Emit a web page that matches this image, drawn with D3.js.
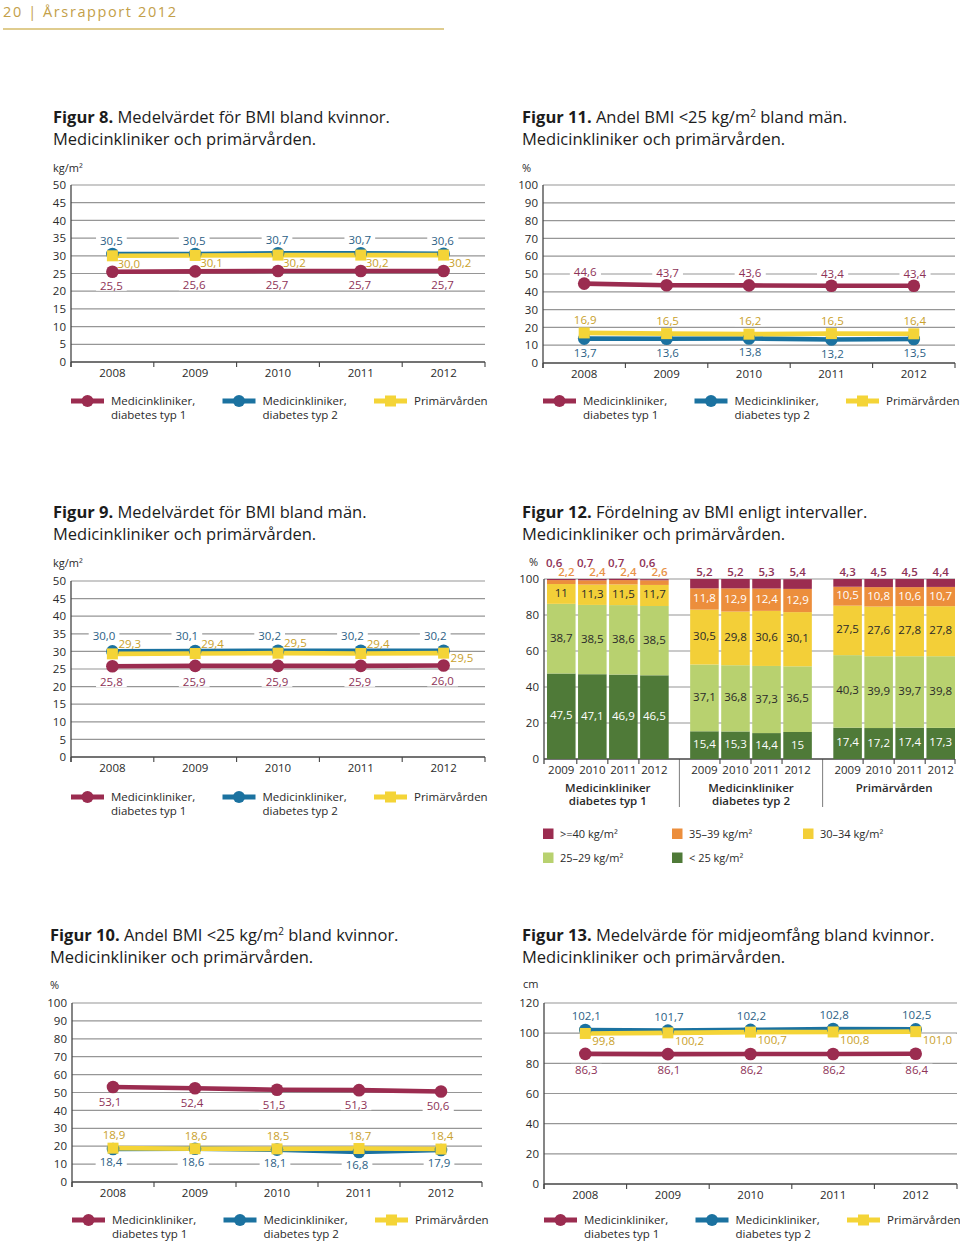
<!DOCTYPE html>
<html><head><meta charset="utf-8">
<script src="https://cdn.jsdelivr.net/npm/d3@7"></script>
<style>
body{margin:0;background:#fff;}
svg{display:block;}
</style></head><body>
<svg id="page" width="960" height="1241"></svg>
<script>
// ---------- DATA ----------
const years = ["2008","2009","2010","2011","2012"];
const seriesLabels = [["Medicinkliniker,","diabetes typ 1"],["Medicinkliniker,","diabetes typ 2"],["Primärvården"]];

// Figur 8 – BMI kvinnor (kg/m²)
const fig8_typ1 = [25.5,25.6,25.7,25.7,25.7];
const fig8_typ2 = [30.5,30.5,30.7,30.7,30.6];
const fig8_prim = [30.0,30.1,30.2,30.2,30.2];
// Figur 9 – BMI män (kg/m²)
const fig9_typ1 = [25.8,25.9,25.9,25.9,26.0];
const fig9_typ2 = [30.0,30.1,30.2,30.2,30.2];
const fig9_prim = [29.3,29.4,29.5,29.4,29.5];
// Figur 10 – Andel BMI<25 kvinnor (%)
const fig10_typ1 = [53.1,52.4,51.5,51.3,50.6];
const fig10_typ2 = [18.4,18.6,18.1,16.8,17.9];
const fig10_prim = [18.9,18.6,18.5,18.7,18.4];
// Figur 11 – Andel BMI<25 män (%)
const fig11_typ1 = [44.6,43.7,43.6,43.4,43.4];
const fig11_typ2 = [13.7,13.6,13.8,13.2,13.5];
const fig11_prim = [16.9,16.5,16.2,16.5,16.4];
// Figur 13 – Midjeomfång kvinnor (cm)
const fig13_typ1 = [86.3,86.1,86.2,86.2,86.4];
const fig13_typ2 = [102.1,101.7,102.2,102.8,102.5];
const fig13_prim = [99.8,100.2,100.7,100.8,101.0];

// Figur 12 – Fördelning av BMI (%), [grupp][år]
const years12 = ["2009","2010","2011","2012"];
const groups12 = [["Medicinkliniker","diabetes typ 1"],["Medicinkliniker","diabetes typ 2"],["Primärvården"]];
const bmiClasses = ["< 25 kg/m²","25–29 kg/m²","30–34 kg/m²","35–39 kg/m²",">=40 kg/m²"];
const fig12_under25 = [[47.5,47.1,46.9,46.5],[15.4,15.3,14.4,15],[17.4,17.2,17.4,17.3]];
const fig12_25to29  = [[38.7,38.5,38.6,38.5],[37.1,36.8,37.3,36.5],[40.3,39.9,39.7,39.8]];
const fig12_30to34  = [[11,11.3,11.5,11.7],[30.5,29.8,30.6,30.1],[27.5,27.6,27.8,27.8]];
const fig12_35to39  = [[2.2,2.4,2.4,2.6],[11.8,12.9,12.4,12.9],[10.5,10.8,10.6,10.7]];
const fig12_40plus  = [[0.6,0.7,0.7,0.6],[5.2,5.2,5.3,5.4],[4.3,4.5,4.5,4.4]];

// ---------- STYLE ----------
const FONT = "'Open Sans', 'Noto Sans', sans-serif";
const COL = {t1:"#9b2c50", t2:"#1b72a0", pr:"#f4d437"};
const LCOL = {t1:"#8e3357", t2:"#2d5f86", pr:"#c9a12c"};
const GRID = "#969696", AXIS = "#444", TXT = "#2a2a2a";
const BAR = ["#4f7a38","#b8d16f","#f3cf38","#ec8e3c","#9b2c50"];

const svg = d3.select("#page").attr("font-family", FONT);

// header
svg.append("text").attr("x",3).attr("y",17).attr("font-size",14.5)
  .attr("letter-spacing",1.6).attr("fill","#c3a049").text("20 | Årsrapport 2012");
svg.append("line").attr("x1",3).attr("x2",444).attr("y1",29).attr("y2",29)
  .attr("stroke","#d4bb68").attr("stroke-width",1.4);

function title(x, y, bold, rest, line2){
  const t = svg.append("text").attr("x",x).attr("y",y).attr("font-size",16.5).attr("fill","#1c1c1c");
  t.append("tspan").attr("font-weight","bold").text(bold);
  rest.forEach(r=>{
    const s = t.append("tspan").text(r.t);
    if(r.sup){ s.attr("font-size",10).attr("dy",-6); }
    if(r.after){ s.attr("dy",6); }
  });
  svg.append("text").attr("x",x).attr("y",y+22).attr("font-size",16.5).attr("fill","#1c1c1c").text(line2);
}
function fmt1(v){ return v.toFixed(1).replace(".",","); }

function lineChart(o){
  const g = svg.append("g");
  const gGrid=g.append("g"), gBg=g.append("g"), gLine=g.append("g"), gTxt=g.append("g");
  const x = d3.scaleBand().domain(years).range([o.x0,o.x1]);
  const y = d3.scaleLinear().domain([0,o.max]).range([o.y0,o.y1]);
  const ticks = d3.range(0, o.max + 0.001, o.step);
  const cx = d => x(d) + x.bandwidth()/2;

  svg.append("text").attr("x",o.ux).attr("y",o.uy).attr("font-size",11).attr("fill",TXT).text(o.unit);

  gGrid.selectAll("line.grid").data(ticks.slice(1)).join("line")
    .attr("x1",o.x0).attr("x2",o.x1).attr("y1",d=>y(d)).attr("y2",d=>y(d))
    .attr("stroke",GRID).attr("stroke-width",1.2);
  const ya = gGrid.append("g").attr("transform",`translate(${o.x0-1},0)`)
    .call(d3.axisLeft(y).tickValues(ticks).tickSize(0).tickPadding(4).tickFormat(d=>d));
  ya.select(".domain").remove();
  ya.selectAll("text").attr("font-size",11.5).attr("fill",TXT).attr("font-family",FONT);
  const xa = gGrid.append("g").attr("transform",`translate(0,${o.y0})`)
    .call(d3.axisBottom(x).tickSize(0).tickPadding(7));
  xa.select(".domain").remove();
  xa.selectAll("text").attr("font-size",11.5).attr("fill",TXT).attr("font-family",FONT);
  const bounds = years.map(d=>x(d)).concat([o.x1]);
  gGrid.selectAll("line.bt").data(bounds).join("line")
    .attr("x1",d=>d).attr("x2",d=>d).attr("y1",o.y0).attr("y2",o.y0+5)
    .attr("stroke",AXIS).attr("stroke-width",1.1);
  gGrid.append("line").attr("x1",o.x0).attr("x2",o.x0).attr("y1",o.y1).attr("y2",o.y0+5)
    .attr("stroke",AXIS).attr("stroke-width",1.3);
  gGrid.append("line").attr("x1",o.x0).attr("x2",o.x1).attr("y1",o.y0).attr("y2",o.y0)
    .attr("stroke",AXIS).attr("stroke-width",1.3);

  const series = [
    {k:"t1", v:o.t1, shape:"c"},
    {k:"t2", v:o.t2, shape:"c"},
    {k:"pr", v:o.pr, shape:"s"}
  ];
  const line = d3.line().x((d,i)=>cx(years[i])).y(d=>y(d));
  series.forEach(s=>{
    gLine.append("path").attr("d",line(s.v)).attr("fill","none")
      .attr("stroke",COL[s.k]).attr("stroke-width",4.6);
  });
  series.forEach(s=>{
    s.v.forEach((v,i)=>{
      if(s.shape==="c") gLine.append("circle").attr("cx",cx(years[i])).attr("cy",y(v)).attr("r",6.3).attr("fill",COL[s.k]);
      else gLine.append("rect").attr("x",cx(years[i])-5.5).attr("y",y(v)-5.5).attr("width",11).attr("height",11).attr("fill",COL[s.k]);
    });
  });
  series.forEach(s=>{
    const L = o.lab[s.k];
    s.v.forEach((v,i)=>{
      const p = Object.assign({}, L, (L.ov && L.ov[i]) || {});
      const t = gTxt.append("text").attr("x",cx(years[i])+p.dx).attr("y",y(v)+p.dy+4)
        .attr("text-anchor",p.a).attr("font-size",11.5).attr("fill",LCOL[s.k]).text(fmt1(v));
      const b = t.node().getBBox();
      gBg.append("rect").attr("x",b.x-4).attr("y",b.y+2).attr("width",b.width+8).attr("height",b.height-4).attr("fill","#fff");
    });
  });
  legend(o.x0, o.y0 + o.ly);
}

function legend(lx, ly){
  const keys = ["t1","t2","pr"];
  keys.forEach((k,i)=>{
    const x0 = lx + i*151.5;
    svg.append("line").attr("x1",x0).attr("x2",x0+33).attr("y1",ly).attr("y2",ly)
      .attr("stroke",COL[k]).attr("stroke-width",4.8);
    if(k==="pr") svg.append("rect").attr("x",x0+16.5-5.5).attr("y",ly-5.5).attr("width",11).attr("height",11).attr("fill",COL[k]);
    else svg.append("circle").attr("cx",x0+16.5).attr("cy",ly).attr("r",6).attr("fill",COL[k]);
    seriesLabels[i].forEach((s,j)=>{
      svg.append("text").attr("x",x0+40).attr("y",ly+4+j*13.5).attr("font-size",11.5).attr("fill",TXT).text(s);
    });
  });
}

// ---------- FIGURES ----------
title(53,123,"Figur 8.",[{t:" Medelvärdet för BMI bland kvinnor."}],"Medicinkliniker och primärvården.");
lineChart({x0:71,x1:485,y0:362,y1:185,max:50,step:5,unit:"kg/m²",ux:53,uy:172,
  t1:fig8_typ1,t2:fig8_typ2,pr:fig8_prim,ly:39,
  lab:{t2:{a:"middle",dx:-1,dy:-13},pr:{a:"start",dx:5,dy:8},t1:{a:"middle",dx:-1,dy:14}}});

title(522,123,"Figur 11.",[{t:" Andel BMI <25 kg/m"},{t:"2",sup:true},{t:" bland män.",after:true}],"Medicinkliniker och primärvården.");
lineChart({x0:543,x1:955,y0:363,y1:185,max:100,step:10,unit:"%",ux:522,uy:172,
  t1:fig11_typ1,t2:fig11_typ2,pr:fig11_prim,ly:38,
  lab:{t1:{a:"middle",dx:1,dy:-12},pr:{a:"middle",dx:1,dy:-13},t2:{a:"middle",dx:1,dy:14}}});

title(53,518,"Figur 9.",[{t:" Medelvärdet för BMI bland män."}],"Medicinkliniker och primärvården.");
lineChart({x0:71,x1:485,y0:757,y1:581,max:50,step:5,unit:"kg/m²",ux:53,uy:567,
  t1:fig9_typ1,t2:fig9_typ2,pr:fig9_prim,ly:40,
  lab:{t2:{a:"end",dx:3,dy:-15},pr:{a:"start",dx:6,dy:-10,ov:{4:{dx:7,dy:5}}},t1:{a:"middle",dx:-1,dy:16}}});

title(50,941,"Figur 10.",[{t:" Andel BMI <25 kg/m"},{t:"2",sup:true},{t:" bland kvinnor.",after:true}],"Medicinkliniker och primärvården.");
lineChart({x0:72,x1:482,y0:1182,y1:1003,max:100,step:10,unit:"%",ux:50,uy:989,
  t1:fig10_typ1,t2:fig10_typ2,pr:fig10_prim,ly:38,
  lab:{t1:{a:"middle",dx:-3,dy:15},pr:{a:"middle",dx:1,dy:-13},t2:{a:"middle",dx:-2,dy:13}}});

title(522,941,"Figur 13.",[{t:" Medelvärde för midjeomfång bland kvinnor."}],"Medicinkliniker och primärvården.");
lineChart({x0:544,x1:957,y0:1184,y1:1003,max:120,step:20,unit:"cm",ux:523,uy:988,
  t1:fig13_typ1,t2:fig13_typ2,pr:fig13_prim,ly:36,
  lab:{t2:{a:"middle",dx:1,dy:-14},pr:{a:"start",dx:7,dy:8},t1:{a:"middle",dx:1,dy:16}}});

// ---------- Figur 12 ----------
title(522,518,"Figur 12.",[{t:" Fördelning av BMI enligt intervaller."}],"Medicinkliniker och primärvården.");
(function(){
  const X0=544, X1=955, Y0=759, Y1=579;
  const y = d3.scaleLinear().domain([0,100]).range([Y0,Y1]);
  const gx = d3.scaleBand().domain([0,1,2]).range([547,955]).paddingInner(0.15);
  const ix = d3.scaleBand().domain(years12).range([0,gx.bandwidth()]).paddingInner(0.08);
  const g = svg.append("g");
  svg.append("text").attr("x",529).attr("y",566).attr("font-size",11).attr("fill",TXT).text("%");
  const ticks = d3.range(0,101,20);
  g.selectAll("line.grid").data(ticks.slice(1)).join("line")
    .attr("x1",X0).attr("x2",X1).attr("y1",d=>y(d)).attr("y2",d=>y(d))
    .attr("stroke",GRID).attr("stroke-width",1.2);
  const ya = g.append("g").attr("transform",`translate(${X0-1},0)`)
    .call(d3.axisLeft(y).tickValues(ticks).tickSize(0).tickPadding(4));
  ya.select(".domain").remove();
  ya.selectAll("text").attr("font-size",11.5).attr("fill",TXT).attr("font-family",FONT);

  const classes = [fig12_under25, fig12_25to29, fig12_30to34, fig12_35to39, fig12_40plus];
  const gb = svg.append("g"), gt = svg.append("g");
  [0,1,2].forEach(gi=>{
    years12.forEach((yr,j)=>{
      const bx = gx(gi) + ix(yr), bw = ix.bandwidth();
      let cum = 0;
      classes.forEach((cls,ci)=>{
        const v = cls[gi][j];
        const top = y(cum+v), bot = y(cum);
        gb.append("rect").attr("x",bx).attr("y",top).attr("width",bw).attr("height",bot-top).attr("fill",BAR[ci]);
        const lbl = String(v).replace(".",",");
        let tx = bx+bw/2, ty = (top+bot)/2+3, anchor="middle", fill = (ci===0||ci===3)?"#fff":TXT;
        if(ci===4){
          fill = LCOL.t1;
          if(gi===0){ tx = bx-1; anchor="start"; ty = 567; }
          else { ty = 576; }
        } else if(ci===3 && v<5){
          fill = "#e8944a"; tx = bx+bw-1; anchor="end"; ty = 576;
        }
        gt.append("text").attr("x",tx).attr("y",ty).attr("text-anchor",anchor)
          .attr("font-size",11.5).attr("fill",fill).attr("font-weight", (ci===4||(ci===3&&v<5))?"600":"normal").text(lbl);
        cum += v;
      });
      gt.append("text").attr("x",bx+bw/2).attr("y",Y0+15).attr("text-anchor","middle")
        .attr("font-size",11.5).attr("fill",TXT).text(yr);
      if(j>0) g.append("line").attr("x1",bx-(ix.step()-bw)/2).attr("x2",bx-(ix.step()-bw)/2)
        .attr("y1",Y0).attr("y2",Y0+5).attr("stroke",AXIS).attr("stroke-width",1.1);
    });
    groups12[gi].forEach((s,k)=>{
      gt.append("text").attr("x",gx(gi)+gx.bandwidth()/2).attr("y",Y0+33+k*13).attr("text-anchor","middle")
        .attr("font-size",11.5).attr("font-weight","600").attr("fill",TXT).text(s);
    });
    if(gi>0){
      const dx = gx(gi) - (gx.step()-gx.bandwidth())/2;
      g.append("line").attr("x1",dx).attr("x2",dx).attr("y1",Y0).attr("y2",Y0+48)
        .attr("stroke","#888").attr("stroke-width",1.1);
    }
  });
  g.append("line").attr("x1",X0).attr("x2",X0).attr("y1",Y1).attr("y2",Y0+5).attr("stroke",AXIS).attr("stroke-width",1.3);
  g.append("line").attr("x1",X0).attr("x2",X1).attr("y1",Y0).attr("y2",Y0).attr("stroke",AXIS).attr("stroke-width",1.3);
  g.append("line").attr("x1",X1).attr("x2",X1).attr("y1",Y0).attr("y2",Y0+5).attr("stroke",AXIS).attr("stroke-width",1.1);

  // legend
  const order = [4,3,2,1,0];
  const pos = [[543,834],[672,834],[803,834],[543,858],[672,858]];
  order.forEach((ci,k)=>{
    const [lx,ly] = pos[k];
    svg.append("rect").attr("x",lx).attr("y",ly-5.5).attr("width",10.5).attr("height",10.5).attr("fill",BAR[ci]);
    svg.append("text").attr("x",lx+17).attr("y",ly+4).attr("font-size",11).attr("fill",TXT).text(bmiClasses[ci]);
  });
})();
</script>
</body></html>
